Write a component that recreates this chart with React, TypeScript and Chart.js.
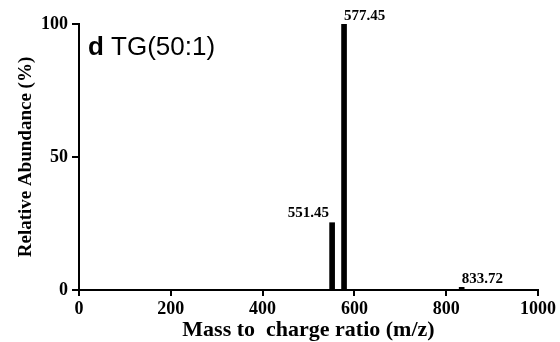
import React, { useEffect, useRef } from "react";
import { Chart, registerables } from "chart.js";

Chart.register(...registerables);

const mzValues = [551.45, 577.45, 833.72];
const abundances = [25.3, 100, 1.0];
const peakLabels = ["551.45", "577.45", "833.72"];
const xTicks = [0, 200, 400, 600, 800, 1000];
const yTicks = [0, 50, 100];
const titleBold = "d";
const titleText = " TG(50:1)";
const xTitle = "Mass to  charge ratio (m/z)";
const yTitle = "Relative Abundance (%)";

const SERIF = "'Liberation Serif', 'Times New Roman', serif";
const SANS = "'Liberation Sans', Arial, sans-serif";

const overlayPlugin = {
  id: "overlay",
  afterDraw(chart: any) {
    const ctx = chart.ctx;
    const xs = chart.scales.x;
    const ys = chart.scales.y;
    const ca = chart.chartArea;
    ctx.save();
    // tick marks
    ctx.fillStyle = "#000";
    xTicks.forEach((v) => {
      const px = Math.round(xs.getPixelForValue(v));
      ctx.fillRect(px - 1, ca.bottom, 2, 6);
    });
    yTicks.forEach((v) => {
      const py = Math.round(ys.getPixelForValue(v));
      ctx.fillRect(ca.left - 7, py - 1, 7, 2);
    });

    ctx.font = `bold 15px ${SERIF}`;
    ctx.textBaseline = "alphabetic";
    mzValues.forEach((mz, i) => {
      const px = xs.getPixelForValue(mz);
      const py = ys.getPixelForValue(abundances[i]);
      if (i === 0) {
        ctx.textAlign = "right";
        ctx.fillText(peakLabels[i], px - 3, py - 6);
      } else {
        ctx.textAlign = "left";
        ctx.fillText(peakLabels[i], px, py - 4);
      }
    });
    // axis titles
    ctx.textAlign = "center";
    ctx.font = `bold 22px ${SERIF}`;
    ctx.fillText(xTitle, (ca.left + ca.right) / 2, 336);
    ctx.save();
    ctx.translate(31, (ca.top + ca.bottom) / 2);
    ctx.rotate(-Math.PI / 2);
    ctx.font = `bold 19px ${SERIF}`;
    ctx.fillText(yTitle, 0, 0);
    ctx.restore();
    // title
    ctx.textAlign = "left";
    ctx.font = `bold 26px ${SANS}`;
    const x0 = ca.left + 9;
    const y0 = ca.top + 31;
    ctx.fillText(titleBold, x0, y0);
    const w = ctx.measureText(titleBold).width;
    ctx.font = `26px ${SANS}`;
    ctx.fillText(titleText, x0 + w, y0);
    ctx.restore();
  },
};

export default function App() {
  const ref = useRef<HTMLCanvasElement>(null);
  useEffect(() => {
    if (!ref.current) return;
    const chart = new Chart(ref.current, {
      type: "bar",
      data: {
        datasets: [
          {
            data: mzValues.map((x, i) => ({ x, y: abundances[i] })),
            backgroundColor: "#000",
            borderWidth: 0,
            barThickness: 5,
          } as any,
        ],
      },
      options: {
        animation: false,
        responsive: true,
        maintainAspectRatio: false,
        layout: { padding: { left: 0, top: 24, right: 22, bottom: 0 } },
        plugins: {
          legend: { display: false },
          tooltip: { enabled: false },
        },
        scales: {
          x: {
            type: "linear",
            min: 0,
            max: 1000,
            offset: false,
            afterBuildTicks: (s: any) => {
              s.ticks = xTicks.map((v) => ({ value: v }));
            },
            afterFit: (s: any) => {
              s.height = 52;
              s.paddingLeft = 0;
              s.paddingRight = 0;
            },
            border: { color: "#000", width: 2 },
            grid: { display: false, drawTicks: false, offset: false },
            ticks: {
              color: "#000",
              padding: 9,
              maxRotation: 0,
              callback: (v: any) => String(v),
              font: { family: SERIF, size: 18, weight: "bold" },
            },
          } as any,
          y: {
            min: 0,
            max: 100,
            afterBuildTicks: (s: any) => {
              s.ticks = yTicks.map((v) => ({ value: v }));
            },
            afterFit: (s: any) => {
              s.width = 79;
              s.paddingTop = 0;
              s.paddingBottom = 0;
            },
            border: { color: "#000", width: 2 },
            grid: { display: false, drawTicks: false },
            ticks: {
              color: "#000",
              padding: 11,
              font: { family: SERIF, size: 18, weight: "bold" },
            },
          } as any,
        },
      },
      plugins: [overlayPlugin],
    });
    return () => chart.destroy();
  }, []);
  return (
    <div style={{ position: "absolute", left: 0, top: 0, width: 560, height: 342, background: "#fff" }}>
      <canvas ref={ref} />
    </div>
  );
}
